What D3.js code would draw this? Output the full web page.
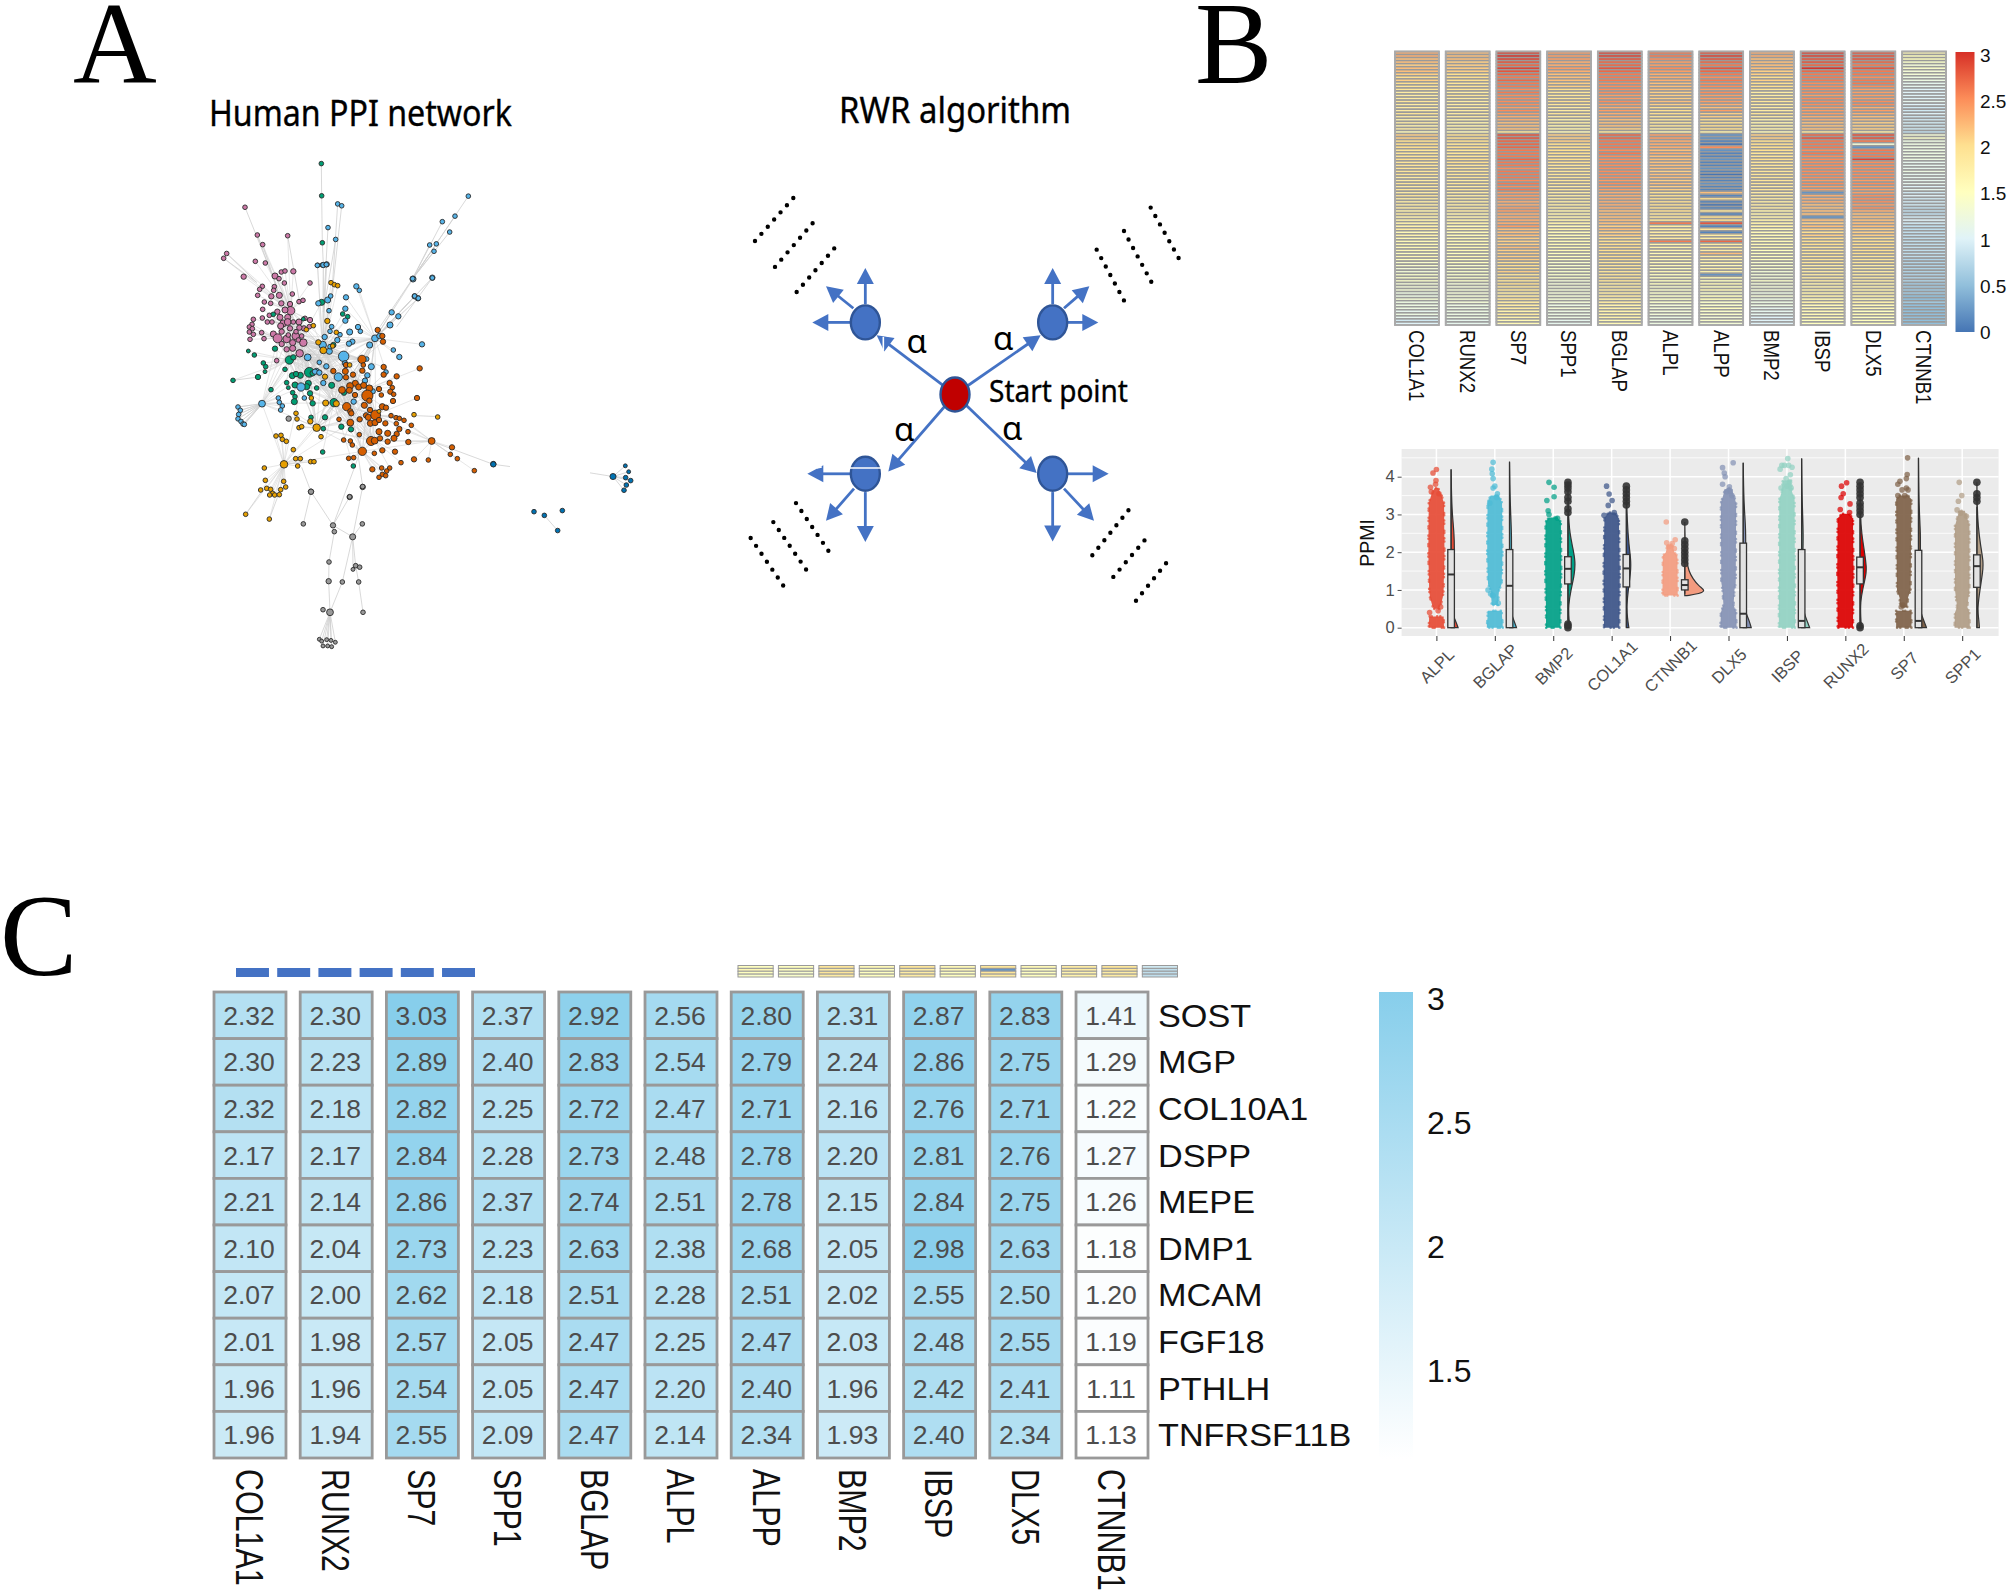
<!DOCTYPE html>
<html><head><meta charset="utf-8">
<script src="https://cdn.jsdelivr.net/npm/d3@7"></script>
<style>html,body{margin:0;padding:0;background:#fff}svg{display:block}text{font-family:"Liberation Sans",Arial,sans-serif}</style>
</head><body><svg id="c" width="2008" height="1592" viewBox="0 0 2008 1592"></svg>
<script>
// ---------- Panel A: network (positions, two reading frames)
const pinkCore=[[46,4,5],[76,9,5],[11,50,6],[105,48,7],[117,56,5],[124,36,5],[135,33,5],[160,34,6],[133,69,5],[210,69,5],[67,79,5],[59,88,5],[53,106,5],[103,80,5],[101,91,5],[94,109,6],[118,106,7],[73,126,5],[92,130,5],[124,130,6],[68,148,5],[150,132,6],[177,125,5],[189,121,5],[157,102,5],[152,152,10],[135,150,7],[112,155,6],[88,166,5],[67,174,5],[40,178,5],[82,186,5],[96,186,5],[120,172,7],[143,172,7],[130,190,8],[143,186,8],[160,186,5],[177,186,7],[195,175,5],[210,180,6],[36,193,5],[28,201,5],[37,206,5],[122,198,7],[150,205,6],[167,228,9],[192,205,6],[208,200,5],[178,203,6],[65,218,5],[72,236,5],[28,216,5],[40,223,5],[30,238,5],[100,222,7],[113,235,11],[140,237,9],[125,252,6],[158,248,7],[190,248,9],[158,265,7],[140,268,6],[179,280,9],[110,302,5],[168,215,5],[175,240,5],[145,225,5],[185,228,5],[125,215,6]];
const greenCore=[[100,163,5],[190,177,4],[245,127,7],[247,15,5],[308,162,5],[323,170,5],[25,273,4],[43,285,5],[105,266,6],[70,309,5],[77,320,5],[75,335,4],[54,351,6],[93,389,5],[135,328,5],[148,300,10],[160,292,6],[208,337,12],[218,340,6],[157,347,7],[181,346,7],[168,342,6],[140,368,5],[145,383,4],[165,375,7],[205,370,7],[200,380,7],[158,398,5],[165,410,5],[163,425,7],[230,384,5],[210,400,6],[218,430,6],[213,472,5],[255,472,6],[250,506,5],[333,508,6],[304,500,6],[248,576,5],[340,618,5],[280,255,6],[275,376,7],[282,428,10],[312,398,6]];
const blueCore=[[233,16,5],[250,15,6],[260,13,6],[235,130,6],[263,120,7],[272,108,5],[318,112,6],[519,57,7],[577,53,6],[349,79,6],[358,91,5],[524,109,6],[534,115,6],[267,152,5],[316,146,6],[316,182,6],[455,157,6],[475,169,6],[450,195,7],[275,200,5],[270,214,5],[329,216,7],[354,201,6],[361,214,5],[300,224,5],[254,231,6],[292,240,6],[337,245,6],[327,251,6],[248,255,9],[268,274,7],[270,260,5],[405,235,8],[389,255,7],[418,228,6],[460,270,5],[478,291,6],[546,253,6],[311,289,13],[380,297,5],[315,310,6],[238,307,5],[203,292,8],[259,319,6],[394,320,7],[230,333,6],[225,335,6],[238,338,6],[295,351,10],[250,369,6],[382,346,6],[375,362,6],[183,381,10],[193,414,5],[115,414,5],[118,427,5],[127,438,5],[122,450,5],[66,431,8],[341,425,6],[398,394,6],[438,336,5]];
const orangeCore=[[413,210,6],[427,228,6],[429,245,6],[366,298,10],[370,315,5],[318,315,6],[316,334,7],[280,333,6],[318,352,6],[339,344,6],[367,332,6],[431,321,6],[431,344,6],[470,349,6],[539,325,6],[449,369,6],[457,383,5],[451,395,6],[461,403,5],[531,414,6],[417,387,6],[424,405,5],[459,423,6],[346,370,7],[356,381,7],[371,376,7],[330,378,8],[388,385,8],[306,390,8],[328,391,7],[345,405,6],[382,407,14],[373,436,7],[388,422,6],[320,440,10],[331,454,6],[334,460,6],[390,450,6],[427,440,7],[438,443,6],[378,466,6],[385,472,7],[407,465,12],[359,478,6],[331,488,8],[391,490,7],[405,488,7],[417,480,6],[436,490,6],[453,467,5],[468,473,5],[478,475,5],[492,481,5],[469,491,5],[514,496,5],[297,478,5],[478,507,6],[358,524,5],[417,515,7],[443,520,7],[504,515,5],[470,522,6],[462,535,7],[311,540,5],[331,543,5],[337,555,5],[393,543,11],[404,542,8],[420,535,6],[443,545,6],[505,546,6],[575,543,8],[367,574,10],[403,580,5],[427,571,6],[465,575,6],[326,595,5],[341,593,5],[522,598,6],[565,600,5],[483,608,5],[397,628,6],[425,624,5],[449,624,5],[440,633,5],[427,643,5],[437,647,5],[417,652,5],[636,562,6],[631,583,5],[652,596,5],[703,632,5]];
const amberCore=[[273,68,5],[283,74,5],[293,77,5],[199,209,5],[220,197,5],[262,183,6],[289,217,5],[235,247,6],[250,271,8],[278,258,5],[329,315,5],[255,350,6],[214,414,5],[257,429,7],[289,431,7],[168,460,5],[171,477,5],[211,484,6],[230,503,9],[177,503,5],[185,500,5],[243,530,5],[108,528,5],[123,526,5],[127,538,5],[139,544,5],[160,569,5],[167,596,5],[181,596,5],[173,618,5],[132,613,9],[212,605,5],[222,605,5],[73,624,5],[76,661,5],[131,664,5],[137,681,5],[122,689,5],[62,690,5],[80,685,5],[92,688,5],[98,700,5],[104,705,5],[89,705,5],[118,704,5],[522,464,5],[593,471,5],[417,454,4]];
const grayCore=[[146,476,6],[213,695,6],[329,711,6],[368,681,6]];
const darkCore=[[760,612,6]];
const greenRim=[[424,199,5],[425,286,5],[427,413,5],[430,473,5],[159,785,5]];
const blueRim=[[473,308,5],[485,313,5],[444,372,5],[467,404,5],[412,474,5],[439,472,5],[865,287,5],[825,341,5],[787,356,5],[809,384,5],[749,419,5],[769,416,5],[762,436,5],[698,510,5],[757,508,5],[704,557,5],[715,563,5],[174,857,5],[181,866,5],[176,877,5],[174,889,5],[183,896,5],[189,903,5],[193,904,5]];
const pinkRim=[[195,317,5],[232,392,5],[248,418,5],[323,394,5],[140,442,5],[131,455,5]];
const darkRim=[[1299,1045,7],[1336,1016,4],[1346,1032,4],[1337,1048,5],[1352,1056,5],[1339,1068,5],[1332,1082,5],[1062,1140,5],[1093,1150,5],[1147,1137,5],[1133,1191,5],[940,1012,6]];
const grayRim=[[393,1086,6],[370,1173,5],[509,1100,5],[548,1072,5],[547,1173,5],[459,1177,6],[463,1194,5],[518,1208,7],[447,1276,5],[527,1286,5],[539,1290,5],[519,1296,4],[446,1328,6],[487,1330,5],[536,1330,5],[429,1405,5],[450,1412,8],[549,1412,5],[418,1485,4],[425,1490,4],[440,1486,4],[453,1488,4],[429,1503,4],[443,1503,4],[455,1505,4],[466,1493,4]];
const amberRim=[[197,1147,5],[268,1160,5]];
const rimEdges=[[393,1086,459,1177],[393,1086,370,1173],[393,1086,365,1020],[459,1177,518,1208],[463,1194,447,1276],[447,1276,446,1328],[446,1328,450,1412],[459,1177,509,1100],[518,1208,548,1072],[518,1208,547,1173],[518,1208,527,1286],[518,1208,519,1296],[518,1208,487,1330],[487,1330,450,1412],[536,1330,549,1412],[527,1286,536,1330],[450,1412,418,1485],[450,1412,425,1490],[450,1412,440,1486],[450,1412,453,1488],[450,1412,429,1503],[450,1412,443,1503],[450,1412,455,1505],[450,1412,466,1493],[548,1072,530,960],[459,1177,540,980],[865,287,698,510],[825,341,698,510],[787,356,698,510],[809,384,698,510],[749,419,698,510],[769,416,698,510],[762,436,698,510],[698,510,600,640],[757,508,650,640],[704,557,620,640],[473,308,455,560],[485,313,455,560],[444,372,430,600],[467,404,430,600],[424,199,425,286],[425,286,427,413],[427,413,430,473],[430,473,430,680],[195,317,290,530],[232,392,300,560],[248,418,300,560],[323,394,360,580],[140,442,230,520],[131,455,230,520],[247,848,174,857],[247,848,181,866],[247,848,176,877],[247,848,174,889],[247,848,183,896],[247,848,189,903],[247,848,193,904],[159,785,234,776],[940,1012,755,950],[940,1012,990,1018],[1230,1035,1299,1045],[1299,1045,1336,1016],[1299,1045,1346,1032],[1299,1045,1337,1048],[1299,1045,1352,1056],[1299,1045,1339,1068],[1299,1045,1332,1082],[1133,1191,1093,1150],[773,883,700,880],[197,1147,245,1085],[268,1160,295,1095]];
// ---------- Panel A: RWR diagram (reading frame 1500 x 1568)
const walkHubs=[[436,703],[998,703],[436,1142],[998,1142]];
const startHub=[705,912];
const walkArrows=[[705,912,470,740],[705,912,962,740],[705,912,505,1135],[705,912,950,1140],[436,650,436,545],[400,662,318,598],[390,703,277,703],[998,650,998,545],[1032,662,1108,598],[1044,703,1135,703],[390,1142,262,1142],[402,1185,318,1278],[436,1195,436,1340],[1044,1142,1166,1142],[1032,1185,1122,1278],[998,1195,998,1338]];
const dotRows=[[105,467,222,340],[165,542,280,413],[230,615,343,488],[1292,370,1378,520],[1212,438,1297,591],[1130,492,1214,643],[228,1227,327,1368],[160,1282,260,1422],[92,1328,191,1468],[1117,1378,1226,1247],[1180,1441,1292,1314],[1248,1510,1356,1380]];
const maskStrokes=[[390,1125,497,1125],[497,1105,497,1135],[490,745,490,785],[500,742,515,742],[290,1125,305,1122]];
const alphaMarks=[[590,760],[850,750],[553,1015],[877,1012]];
// ---------- Panel B: row heatmap
const genesB=["COL1A1","RUNX2","SP7","SPP1","BGLAP","ALPL","ALPP","BMP2","IBSP","DLX5","CTNNB1"];
const col1a1=[2.3,2.3,2.2,2.2,2.1,2.2,2.2,2.1,2.0,2.1,2.0,1.9,1.9,1.8,1.8,1.8,1.9,1.8,1.8,1.8,1.9,1.8,1.7,1.8,1.7,1.8,1.6,2.1,2.1,2.0,2.0,2.0,1.9,1.9,1.9,2.0,1.9,1.9,1.9,1.9,1.9,1.8,1.8,1.9,1.8,1.9,1.8,1.9,1.8,1.8,1.8,1.8,1.7,1.8,1.7,1.7,1.7,1.7,1.8,1.6,1.7,1.6,1.6,1.6,1.6,1.6,1.5,1.6,1.5,1.4,1.4,1.3,1.3,1.4,1.4,1.4,1.3,1.3,1.3,1.2,1.2,1.3,1.2,1.2,1.2,1.1,1.2,1.1,0.9,1.0];
const runx2=[2.2,2.2,2.2,2.1,2.1,2.1,2.1,2.0,2.0,2.0,1.9,1.9,1.9,1.8,1.9,1.8,1.8,1.8,1.8,1.8,1.8,1.8,1.7,1.7,1.7,1.7,1.6,2.0,2.0,2.0,1.9,2.0,1.9,1.9,1.9,2.0,2.0,1.9,1.9,1.9,1.9,1.9,1.8,1.9,1.8,1.9,1.8,1.8,1.8,1.8,1.8,1.8,1.8,1.7,1.7,1.7,1.7,1.6,1.7,1.6,1.6,1.6,1.6,1.6,1.6,1.6,1.5,1.6,1.5,1.5,1.4,1.4,1.4,1.4,1.4,1.4,1.3,1.3,1.3,1.3,1.3,1.3,1.3,1.2,1.2,1.2,1.2,1.2,1.1,1.1];
const sp7=[2.9,3.0,2.9,2.8,2.7,2.9,2.8,2.7,2.6,2.7,2.6,2.6,2.5,2.6,2.5,2.5,2.5,2.5,2.4,2.5,2.4,2.3,2.3,2.2,2.2,2.2,1.9,2.8,2.8,2.7,2.7,2.7,2.6,2.6,2.6,2.7,2.6,2.6,2.5,2.6,2.6,2.6,2.5,2.6,2.5,2.6,2.4,2.4,2.4,2.3,2.3,2.4,2.4,2.3,2.3,2.3,2.3,2.4,2.2,2.2,2.2,2.1,2.1,2.1,2.2,2.1,2.1,2.1,2.1,2.0,2.0,2.0,2.1,1.9,2.0,1.9,2.0,1.9,1.9,1.8,1.8,1.9,1.8,1.8,1.8,1.7,1.8,1.7,1.6,1.6];
const spp1=[2.4,2.4,2.4,2.3,2.3,2.4,2.3,2.2,2.2,2.2,2.1,2.1,2.0,1.9,1.9,1.9,2.0,1.9,1.8,1.8,1.9,1.8,1.7,1.8,1.7,1.7,1.6,2.1,2.1,2.1,2.0,2.0,2.0,2.0,1.9,2.0,2.0,1.9,1.9,1.9,1.9,1.9,1.9,1.9,1.8,1.9,1.8,1.8,1.8,1.8,1.8,1.8,1.7,1.7,1.7,1.7,1.7,1.6,1.7,1.6,1.6,1.6,1.6,1.6,1.6,1.6,1.5,1.5,1.5,1.4,1.4,1.4,1.4,1.4,1.4,1.3,1.3,1.3,1.3,1.3,1.3,1.3,1.3,1.2,1.3,1.2,1.2,1.2,1.1,1.1];
const bglap=[2.9,2.9,2.8,2.7,2.7,2.8,2.7,2.6,2.6,2.6,2.5,2.5,2.5,2.5,2.4,2.4,2.5,2.4,2.3,2.4,2.3,2.3,2.2,2.2,2.2,2.1,1.9,2.7,2.7,2.6,2.6,2.6,2.5,2.6,2.5,2.5,2.5,2.5,2.5,2.5,2.5,2.5,2.4,2.5,2.4,2.4,2.3,2.3,2.3,2.3,2.3,2.3,2.2,2.2,2.2,2.2,2.2,2.1,2.2,2.1,2.1,2.0,2.0,2.0,2.0,2.0,2.0,2.0,2.0,1.9,1.9,1.9,1.9,1.9,1.9,1.9,1.8,1.8,1.8,1.8,1.8,1.7,1.8,1.7,1.7,1.7,1.7,1.7,1.6,1.6];
const alpl=[2.6,2.6,2.5,2.4,2.4,2.5,2.4,2.3,2.3,2.3,2.2,2.2,2.2,2.1,2.1,2.1,2.2,2.1,2.0,2.0,2.0,1.9,1.9,1.9,1.9,1.8,1.7,2.4,2.4,2.3,2.3,2.3,2.2,2.3,2.2,2.2,2.2,2.2,2.2,2.1,2.2,2.2,2.1,2.2,2.1,2.1,2.0,2.0,2.0,2.0,2.0,2.0,2.0,1.9,1.9,1.9,2.6,1.8,1.8,1.8,1.8,1.8,2.6,1.7,1.7,1.7,1.6,1.7,1.6,1.6,1.6,1.5,1.6,1.5,1.5,1.5,1.5,1.4,1.4,1.4,1.4,1.4,1.4,1.3,1.3,1.3,1.3,1.2,1.2,1.2];
const alpp=[2.8,2.9,2.8,2.7,2.6,2.8,2.7,2.6,2.5,2.6,2.5,2.5,2.4,2.5,2.4,2.4,2.4,2.3,2.2,2.4,2.1,2.1,2.0,2.0,2.0,2.0,1.7,0.2,0.2,0.1,0.0,2.5,0.2,0.1,0.1,0.2,0.1,0.1,0.2,0.1,0.0,0.1,0.1,0.2,0.1,0.1,2.2,0.1,2.0,0.1,0.0,0.1,1.9,0.1,2.0,2.0,2.8,0.1,1.9,0.1,1.8,1.8,2.7,1.8,1.8,1.8,2.2,1.8,1.7,1.7,1.6,1.7,1.7,0.2,1.6,1.5,1.6,1.5,1.6,1.4,1.5,1.5,1.4,1.4,1.5,1.4,1.4,1.3,1.4,1.3];
const bmp2=[2.3,2.3,2.2,2.2,2.2,2.2,2.1,2.1,2.0,2.1,2.0,2.0,1.9,1.8,1.8,1.9,1.9,1.8,1.8,1.8,1.9,1.8,1.7,1.7,1.7,1.7,1.6,2.1,2.1,2.0,2.0,2.0,2.0,1.9,1.9,2.0,1.9,1.9,1.9,1.9,1.9,1.9,1.9,1.9,1.8,1.9,1.8,1.8,1.8,1.8,1.8,1.8,1.7,1.7,1.7,1.7,1.7,1.7,1.6,1.6,1.6,1.6,1.6,1.6,1.6,1.5,1.5,1.5,1.5,1.4,1.4,1.4,1.3,1.3,1.3,1.4,1.3,1.3,1.3,1.2,1.3,1.2,1.2,1.2,1.1,1.1,1.1,1.0,1.0,1.0];
const ibsp=[2.9,2.9,2.8,2.8,2.7,3.0,2.7,2.6,2.6,2.6,2.5,2.5,2.5,2.5,2.4,2.5,2.5,2.5,2.4,2.4,2.4,2.3,2.3,2.2,2.2,2.2,1.9,2.7,2.8,2.6,2.6,2.6,2.5,2.6,2.5,2.5,2.5,2.5,2.5,2.5,2.5,2.5,2.4,2.5,2.4,2.4,0.2,2.3,2.3,2.3,2.2,2.2,2.2,2.2,0.2,2.2,2.1,2.2,2.1,2.0,2.1,2.0,2.0,2.0,1.9,1.9,1.9,1.9,1.9,1.9,1.8,1.8,1.8,1.8,1.8,1.8,1.7,1.7,1.7,1.7,1.7,1.6,1.7,1.6,1.6,1.6,1.6,1.6,1.5,1.5];
const dlx5=[2.8,2.8,2.8,2.7,2.6,2.8,2.6,2.6,2.5,2.6,2.6,2.5,2.4,2.4,2.4,2.4,2.5,2.5,2.3,2.4,2.3,2.2,2.2,2.1,2.1,2.1,1.8,2.8,2.8,2.6,1.3,0.2,2.6,2.6,2.6,2.9,2.5,2.5,2.5,2.5,2.5,2.5,2.4,2.5,2.4,2.4,2.4,2.5,2.5,2.5,2.4,2.5,2.3,2.2,2.2,2.2,2.2,2.2,2.1,2.1,2.1,2.0,2.0,2.0,2.0,2.0,2.0,1.9,1.9,1.9,1.8,1.8,1.8,1.8,1.8,1.8,1.7,1.7,1.7,1.7,1.7,1.6,1.7,1.6,1.6,1.5,1.6,1.5,1.5,1.5];
const ctnnb1=[1.6,1.5,1.5,1.4,1.3,1.4,1.3,1.3,1.2,1.2,1.1,1.1,1.0,1.0,1.0,1.0,1.1,1.0,0.9,0.9,1.0,0.9,0.9,0.9,0.9,0.9,0.8,1.3,1.4,1.2,1.2,1.2,1.2,1.2,1.2,1.2,1.1,1.1,1.1,1.2,1.1,1.1,1.1,1.1,1.0,1.1,0.9,1.0,0.9,0.9,0.9,0.8,0.8,0.8,0.9,1.0,0.9,0.8,0.8,0.8,0.8,0.8,0.8,0.8,0.8,0.8,0.8,0.8,0.7,0.7,0.7,0.7,0.7,0.7,0.7,0.7,0.6,0.6,0.6,0.6,0.5,0.5,0.6,0.5,0.5,0.5,0.5,0.5,0.5,0.5];
const seriesB=[col1a1,runx2,sp7,spp1,bglap,alpl,alpp,bmp2,ibsp,dlx5,ctnnb1];
const heatStops=["#4575B4","#91BFDB","#E0F3F8","#FFFFBF","#FEE090","#FC8D59","#D73027"];
const heatStopValues=[0,0.5,1,1.5,2,2.5,3];
const heatTicks=[0,0.5,1,1.5,2,2.5,3];
// ---------- Panel B: raincloud
const genesR=["ALPL","BGLAP","BMP2","COL1A1","CTNNB1","DLX5","IBSP","RUNX2","SP7","SPP1"];
const colorsR=["#E64B35","#4DBBD5","#00A087","#3C5488","#F39B7F","#8491B4","#91D1C2","#DC0000","#7E6148","#B09C85"];
const boxQ1=[0,0,1.16,1.08,1.0,0,0,1.16,0,1.07];
const boxMed=[1.41,1.11,1.56,1.57,1.13,0.37,0.18,1.6,0.18,1.63];
const boxQ3=[2.07,2.07,1.88,1.94,1.27,2.24,2.07,1.87,2.05,1.93];
const whiskLo=[0,0,0.2,0,0.9,0,0,0.1,0,0];
const whiskHi=[4.19,4.38,2.95,3.2,1.65,4.37,4.48,2.95,4.5,3.2];
const bandsR=[
 [[[0,.9],[.3,.85]],[[.5,.3],[.6,.5],[.8,.75],[1,.85],[2,.95],[3.3,.9],[3.55,.55],[3.7,.2]]],
 [[[0,.95],[.45,.8]],[[.6,.35],[1,.5],[1.15,.8],[2,.9],[3.3,.85],[3.5,.5]]],
 [[[0,.85],[.5,.85],[1.5,.95],[2.8,.9],[2.92,.5]]],
 [[[0,.9],[1.5,.95],[2.9,.85],[3.05,.4]]],
 [[[.85,.9],[1.9,.85],[2.0,.5],[2.2,.3]]],
 [[[0,.95],[.4,.9],[.6,.6],[1,.7],[1.2,.85],[3.3,.9],[3.6,.5],[3.7,.2]]],
 [[[0,.95],[3.4,.9],[3.6,.6],[3.9,.5]]],
 [[[0,.9],[1.5,.95],[2.9,.9],[3.02,.4]]],
 [[[0,.9],[.45,.9]],[[.55,.4],[.8,.5],[1,.8],[3.4,.9],[3.5,.5]]],
 [[[0,.9],[.4,.85],[.55,.6],[1,.85],[2.7,.85],[2.9,.6],[3.1,.3]]]];
const scatterR=[
 [[0,4.19],[-.4,4.1],[-.05,3.9],[-.1,3.8],[-.7,3.72],[-.6,3.6],[.3,3.55],[-.8,.4],[.5,.55],[.2,.45]],
 [[-.2,4.38],[-.35,4.2],[-.3,4.08],[-.2,3.95],[0,3.75],[-.2,3.7],[.3,3.55],[.2,3.45],[-.6,3.3],[-.8,1.0],[-.5,.9],[-.2,.85],[.4,.65]],
 [[-.5,3.85],[.1,3.72],[.1,3.47],[-.75,3.37],[-.6,3.1],[-.5,3],[.5,2.9]],
 [[-.6,3.75],[-.3,3.54],[.05,3.37],[-.4,3.24],[-.9,2.98],[.3,3.05]],
 [[-.45,2.8],[.6,2.33],[-.4,2.25],[.25,2.23],[-.1,2.15],[.5,2.1]],
 [[.55,4.37],[-.7,4.24],[-.5,4.1],[-.4,4],[-.7,3.8],[.1,3.73],[-.2,3.6],[.2,3.62],[.4,3.5]],
 [[.1,4.48],[-.6,4.3],[-.3,4.3],[.2,4.3],[.6,4.25],[-.8,4.2],[.4,4.05],[-.1,3.95],[.3,3.85],[-.7,3.7],[0,3.75],[.5,3.7]],
 [[.15,3.84],[-.45,3.75],[-.25,3.55],[-.5,3.45],[.55,3.28],[-.6,3.13],[.5,3.05]],
 [[.45,4.5],[.4,4.06],[.3,3.95],[-.45,3.88],[-.7,3.8],[.3,3.7],[-.2,3.65],[.5,3.65],[-.7,3.5],[.1,3.5],[-.3,.55],[-.1,.6]],
 [[-.35,3.85],[-.05,3.5],[-.45,3.35],[-.6,3.12],[.5,2.95],[-.2,3.03]]];
const outliersR=[[],[],[3.05,3.15,3.35,3.45,3.6,3.7,3.78,3.85,0,0.05,0.1],[3.25,3.35,3.45,3.55,3.65,3.75],[1.7,1.8,1.9,2.0,2.1,2.2,2.3,2.8],[],[],[3.0,3.1,3.2,3.3,3.45,3.55,3.65,3.75,3.85,0,0.05],[],[3.35,3.45,3.55,3.85]];
const violinR=[
 [[0,7],[.15,5],[.35,1.5],[.6,.6],[1,1.2],[1.5,2.5],[2,3.5],[2.5,3],[3,1.2],[3.5,.4],[4.2,0]],
 [[0,7],[.15,5],[.35,2],[.6,.5],[1,1],[1.5,1.5],[2,2],[2.5,2],[3,1.2],[3.5,.5],[4.4,0]],
 [[0,2],[.2,1],[.6,.4],[1,3],[1.4,6.5],[1.75,7.5],[2.1,5],[2.5,1.8],[3,.4],[3.85,0]],
 [[0,2.5],[.25,1],[.6,.4],[1,1.8],[1.5,4.5],[1.8,4.5],[2.2,2.5],[2.8,.8],[3.75,0]],
 [[.85,2],[.9,15],[.98,21],[1.1,14],[1.3,8],[1.5,4],[1.8,1.5],[2.2,.4],[2.8,0]],
 [[0,8],[.15,6.5],[.4,2.5],[.7,.8],[1,1],[1.5,1.5],[2,2.5],[2.6,2.5],[3,1.5],[3.5,.5],[4.37,0]],
 [[0,8],[.15,6],[.4,2],[.8,.4],[1.5,.6],[2,1.4],[2.5,1.6],[3,1],[3.5,.4],[4.48,0]],
 [[0,1.5],[.25,.6],[.7,.4],[1,2.5],[1.4,6],[1.6,6.5],[2,4.5],[2.5,1.5],[3,.3],[3.85,0]],
 [[0,8],[.15,6],[.4,2],[.8,.5],[1.5,1.2],[2,2],[2.5,2],[3,1],[3.5,.4],[4.5,0]],
 [[0,2.5],[.2,2],[.5,.5],[1,3],[1.5,6],[1.75,6.5],[2.2,3.5],[2.7,1.2],[3.2,.3],[3.85,0]]];
const ppmiTicks=[0,1,2,3,4];
const ppmiMinor=[0.5,1.5,2.5,3.5,4.5];
// ---------- Panel C
const genesC=genesB;
const rowsC=["SOST","MGP","COL10A1","DSPP","MEPE","DMP1","MCAM","FGF18","PTHLH","TNFRSF11B"];
const sost=[2.32,2.30,3.03,2.37,2.92,2.56,2.80,2.31,2.87,2.83,1.41];
const mgp=[2.30,2.23,2.89,2.40,2.83,2.54,2.79,2.24,2.86,2.75,1.29];
const col10a1=[2.32,2.18,2.82,2.25,2.72,2.47,2.71,2.16,2.76,2.71,1.22];
const dspp=[2.17,2.17,2.84,2.28,2.73,2.48,2.78,2.20,2.81,2.76,1.27];
const mepe=[2.21,2.14,2.86,2.37,2.74,2.51,2.78,2.15,2.84,2.75,1.26];
const dmp1=[2.10,2.04,2.73,2.23,2.63,2.38,2.68,2.05,2.98,2.63,1.18];
const mcam=[2.07,2.00,2.62,2.18,2.51,2.28,2.51,2.02,2.55,2.50,1.20];
const fgf18=[2.01,1.98,2.57,2.05,2.47,2.25,2.47,2.03,2.48,2.55,1.19];
const pthlh=[1.96,1.96,2.54,2.05,2.47,2.20,2.40,1.96,2.42,2.41,1.11];
const tnfrsf11b=[1.96,1.94,2.55,2.09,2.47,2.14,2.34,1.93,2.40,2.34,1.13];
const valuesC=[sost,mgp,col10a1,dspp,mepe,dmp1,mcam,fgf18,pthlh,tnfrsf11b];
const legendTicksC=[1.5,2,2.5,3];
const thumbStrips=[[1.5,1.6,1.5,1.4],[1.5,1.5,1.4,1.4],[1.9,1.8,1.9,1.8],[1.6,1.5,1.5,1.5],[1.9,1.8,1.8,1.8],[1.6,1.6,1.5,1.5],[1.9,0.2,1.9,1.8],[1.6,1.5,1.5,1.5],[1.8,1.8,1.7,1.7],[1.9,1.9,1.8,1.8],[0.9,0.8,0.8,0.8]];
const solidStrips=[0,1,2,3,4,5];
// ==================== drawing
const svg=d3.select("#c");
const defs=svg.append("defs");
const letter=(t,x,y)=>svg.append("text").attr("x",x).attr("y",y).text(t).style("font-family","'Liberation Serif',serif").style("font-size","116px").attr("fill","#000");
letter("A",73,83);letter("B",1195,83);letter("C",0,975);
const title=(t,x,y,len,fs)=>svg.append("text").attr("x",x).attr("y",y).text(t).attr("textLength",len).attr("lengthAdjust","spacingAndGlyphs").attr("stroke","#000").attr("stroke-width",.35).style("font-family","'Noto Sans',sans-serif").style("font-size",fs+"px").attr("fill","#000");
title("Human PPI network",209,126,303,36);
title("RWR algorithm",839,123,232,36);
title("Start point",989,402,139,30);

// --- network
const xo=d3.scaleLinear([0,1440],[180,660]),yo=d3.scaleLinear([0,1568],[90,670]);
const xi=d3.scaleLinear([0,780],[240,500]),yi=d3.scaleLinear([0,720],[260,500]);
const rn=d3.scaleLinear([0,14],[0.5,5.6]);
const netCols={pink:"#CC79A7",green:"#009E73",blue:"#56B4E9",orange:"#D55E00",amber:"#E69F00",gray:"#999999",dark:"#0072B2"};
const core={pink:pinkCore,green:greenCore,blue:blueCore,orange:orangeCore,amber:amberCore,gray:grayCore,dark:darkCore};
const rim={pink:pinkRim,green:greenRim,blue:blueRim,gray:grayRim,dark:darkRim,amber:amberRim,orange:[]};
const nodes=[];
for(const k in core){core[k].forEach(d=>nodes.push({k,x:xi(d[0]),y:yi(d[1]),r:rn(d[2]),raw:d[2]}));
 rim[k].forEach(d=>nodes.push({k,x:xo(d[0]),y:yo(d[1]),r:rn(d[2]),raw:d[2]}));}
const hubs=nodes.filter(n=>n.raw>=8);
const links=[];
nodes.forEach(n=>{ if(n.raw>=8) return; const hs=hubs.filter(h=>h.k===n.k); if(!hs.length||n.k==="gray"||n.k==="dark") return;
 const h=d3.least(hs,a=>(a.x-n.x)**2+(a.y-n.y)**2); if(Math.hypot(h.x-n.x,h.y-n.y)<95) links.push([n.x,n.y,h.x,h.y]);});
hubs.forEach((a,i)=>hubs.slice(i+1).forEach(b=>{if(Math.hypot(a.x-b.x,a.y-b.y)<80)links.push([a.x,a.y,b.x,b.y]);}));
const gNet=svg.append("g");
gNet.selectAll("line.a").data(links).join("line").attr("x1",d=>d[0]).attr("y1",d=>d[1]).attr("x2",d=>d[2]).attr("y2",d=>d[3]).attr("stroke","#cfcfcf").attr("stroke-width",.7).attr("opacity",.7);
gNet.selectAll("line.b").data(rimEdges).join("line").attr("x1",d=>xo(d[0])).attr("y1",d=>yo(d[1])).attr("x2",d=>xo(d[2])).attr("y2",d=>yo(d[3])).attr("stroke","#cfcfcf").attr("stroke-width",.8);
gNet.selectAll("circle").data(nodes).join("circle").attr("cx",d=>d.x).attr("cy",d=>d.y).attr("r",d=>d.r).attr("fill",d=>netCols[d.k]).attr("stroke","#2a2a2a").attr("stroke-width",.9);

// --- RWR
const xw=d3.scaleLinear([0,1500],[720,1220]),yw=d3.scaleLinear([0,1568],[80,620.7]);
const gW=svg.append("g"),walkBlue="#4472C4";
gW.selectAll("line.dot").data(dotRows).join("line").attr("x1",d=>xw(d[0])).attr("y1",d=>yw(d[1])).attr("x2",d=>xw(d[2])).attr("y2",d=>yw(d[3])).attr("stroke","#000").attr("stroke-width",4.4).attr("stroke-linecap","round").attr("stroke-dasharray","0 9.6");
walkArrows.forEach(a=>{const x1=xw(a[0]),y1=yw(a[1]),x2=xw(a[2]),y2=yw(a[3]),ang=Math.atan2(y2-y1,x2-x1)*180/Math.PI,L=Math.hypot(x2-x1,y2-y1);
 const g=gW.append("g").attr("transform",`translate(${x1},${y1}) rotate(${ang})`);
 g.append("line").attr("x2",L-12).attr("stroke",walkBlue).attr("stroke-width",2.8);
 g.append("path").attr("d",`M${L},0L${L-16},-8.5L${L-16},8.5Z`).attr("fill",walkBlue);});
const hubEll=(p,fill)=>gW.append("ellipse").attr("cx",xw(p[0])).attr("cy",yw(p[1])).attr("rx",14.5).attr("ry",17).attr("fill",fill).attr("stroke","#2F5597").attr("stroke-width",2.4);
walkHubs.forEach(p=>hubEll(p,walkBlue));hubEll(startHub,"#C00000");
gW.selectAll("line.mask").data(maskStrokes).join("line").attr("x1",d=>xw(d[0])).attr("y1",d=>yw(d[1])).attr("x2",d=>xw(d[2])).attr("y2",d=>yw(d[3])).attr("stroke","#fff").attr("stroke-width",1.6);
gW.selectAll("text.al").data(alphaMarks).join("text").attr("x",d=>xw(d[0])).attr("y",d=>yw(d[1])).attr("dy",".33em").attr("text-anchor","middle").text("α").style("font-family","'Noto Sans',sans-serif").style("font-size","33px");

// --- heat B
const heatColor=d3.scaleLinear(heatStopValues,heatStops);
const xB=d3.scaleBand(genesB,[1395,1946]).paddingInner(.135);
const nRows=col1a1.length;
const yB=d3.scaleBand(d3.range(nRows),[51.5,325]);
const gB=svg.append("g");
seriesB.forEach((vals,c)=>{const g=gB.append("g");
 g.selectAll("rect").data(vals).join("rect").attr("x",xB(genesB[c])).attr("width",xB.bandwidth()).attr("y",(d,i)=>yB(i)).attr("height",yB.bandwidth()).attr("fill",d=>heatColor(d)).attr("stroke","#9a9a9a").attr("stroke-width",1.5);
 g.append("rect").attr("x",xB(genesB[c])).attr("y",51.5).attr("width",xB.bandwidth()).attr("height",273.5).attr("fill","none").attr("stroke","#aaa").attr("stroke-width",1.8);});
const vText=(g,t,x,y,fs,k,fill)=>g.append("text").attr("transform",`translate(${x},${y}) rotate(90) scale(1,${k})`).attr("dy",".36em").text(t).style("font-size",fs+"px").attr("fill",fill);
genesB.forEach(t=>vText(gB,t,xB(t)+xB.bandwidth()/2,330,18.6,1.15,"#111"));
const gradB=defs.append("linearGradient").attr("id","gb").attr("x1",0).attr("x2",0).attr("y1",1).attr("y2",0);
heatStopValues.forEach(v=>gradB.append("stop").attr("offset",v/3).attr("stop-color",heatColor(v)));
const lyB=d3.scaleLinear([0,3],[332,55]);
gB.append("rect").attr("x",1955.5).attr("width",19).attr("y",52).attr("height",280).attr("fill","url(#gb)");
gB.selectAll("text.t").data(heatTicks).join("text").attr("x",1980).attr("y",d=>lyB(d)).attr("dy",".36em").text(d=>d).style("font-size","19px").attr("fill","#111");

// --- raincloud
const xR=d3.scalePoint(genesR,[1436.4,1962.2]);
const yR=d3.scaleLinear([0,4],[627.7,476.7]);
const jit=d3.scaleLinear([-1,1],[-8.5,8.5]);
const dens=d3.scaleLinear([0,21],[0,21]);
const gR=svg.append("g");
gR.append("rect").attr("x",1401.6).attr("y",449).attr("width",597).attr("height",187).attr("fill","#EBEBEB");
gR.selectAll("line.mn").data(ppmiMinor).join("line").attr("x1",1401.6).attr("x2",1998.6).attr("y1",d=>yR(d)).attr("y2",d=>yR(d)).attr("stroke","#fff").attr("stroke-width",.8);
gR.selectAll("line.mj").data(ppmiTicks).join("line").attr("x1",1401.6).attr("x2",1998.6).attr("y1",d=>yR(d)).attr("y2",d=>yR(d)).attr("stroke","#fff").attr("stroke-width",1.5);
gR.selectAll("line.v").data(genesR).join("line").attr("y1",449).attr("y2",636).attr("x1",d=>xR(d)).attr("x2",d=>xR(d)).attr("stroke","#fff").attr("stroke-width",1.5);
genesR.forEach((name,i)=>{const cx=xR(name),col=colorsR[i];
 const band=d3.area().y(d=>yR(d[0])).x0(d=>cx-jit(d[1])).x1(d=>cx+jit(d[1]));
 const g=gR.append("g");
 bandsR[i].forEach(seg=>{g.append("path").attr("d",band(seg)).attr("fill",col).attr("fill-opacity",.92).attr("stroke",col).attr("stroke-opacity",.75).attr("stroke-width",2.6).attr("stroke-linecap","round").attr("stroke-dasharray","0.1 5.3 0.1 1.9 0.1 7.1 0.1 3.1");});
 g.selectAll("circle").data(scatterR[i]).join("circle").attr("cx",d=>cx+jit(d[0])).attr("cy",d=>yR(d[1])).attr("r",2.8).attr("fill",col).attr("opacity",.72);
 const bx=cx+14.7;
 const viol=d3.area().curve(d3.curveBasis).y(d=>yR(d[0])).x0(bx).x1(d=>bx+dens(d[1]));
 gR.append("path").attr("d",viol(violinR[i])+"Z").attr("fill",col).attr("stroke","#333").attr("stroke-width",1.2);
 gR.append("line").attr("x1",bx).attr("x2",bx).attr("y1",yR(whiskLo[i])).attr("y2",yR(whiskHi[i])).attr("stroke","#333").attr("stroke-width",1.2);
 gR.append("rect").attr("x",bx-3.3).attr("width",6.6).attr("y",yR(boxQ3[i])).attr("height",yR(boxQ1[i])-yR(boxQ3[i])).attr("fill","#e2e2e2").attr("stroke","#333").attr("stroke-width",1.3);
 gR.append("line").attr("x1",bx-3.3).attr("x2",bx+3.3).attr("y1",yR(boxMed[i])).attr("y2",yR(boxMed[i])).attr("stroke","#333").attr("stroke-width",2);
 gR.selectAll(null).data(outliersR[i]).join("circle").attr("cx",bx).attr("cy",d=>yR(d)).attr("r",3.8).attr("fill","#333").attr("opacity",.9);
});
const axL=gR.append("g").attr("transform","translate(1401.6,0)").call(d3.axisLeft(yR).tickValues(ppmiTicks).tickFormat(d3.format("d")).tickSize(4));
axL.select(".domain").remove();axL.selectAll("line").attr("stroke","#4d4d4d");axL.selectAll("text").style("font-size","16.5px").attr("fill","#4d4d4d");
const axB=gR.append("g").attr("transform","translate(0,636)").call(d3.axisBottom(xR).tickSize(5));
axB.select(".domain").remove();axB.selectAll("line").attr("stroke","#333");
axB.selectAll("text").attr("x",0).attr("y",0).attr("dy",".35em").attr("text-anchor","middle").attr("transform","translate(0,30) rotate(-45)").style("font-size","16.5px").attr("fill","#4d4d4d");
gR.append("text").attr("transform","translate(1367,543) rotate(-90)").attr("text-anchor","middle").attr("dy",".36em").text("PPMI").style("font-size","19.5px").attr("fill","#111");

// --- heat C
const skyScale=d3.scaleLinear([1.13,3.03],["#ffffff","#87CEEB"]).clamp(true);
const xC=d3.scaleBand(genesC,[214,1148]).paddingInner(.165);
const yC=d3.scaleBand(rowsC,[992,1458]);
const gC=svg.append("g");
valuesC.forEach((vals,r)=>{const g=gC.append("g");
 g.selectAll("rect").data(vals).join("rect").attr("x",(d,i)=>xC(genesC[i])).attr("y",yC(rowsC[r])).attr("width",xC.bandwidth()).attr("height",yC.bandwidth()).attr("fill",d=>skyScale(d)).attr("stroke","#999").attr("stroke-width",2.8);
 g.selectAll("text").data(vals).join("text").attr("x",(d,i)=>xC(genesC[i])+xC.bandwidth()/2-1).attr("y",yC(rowsC[r])+yC.bandwidth()/2).attr("dy",".36em").attr("text-anchor","middle").text(d=>d.toFixed(2)).style("font-size","26.5px").attr("fill","#4d4d4d");});
rowsC.forEach(t=>gC.append("text").attr("transform",`translate(1158,${yC(t)+yC.bandwidth()/2}) scale(1.07,1)`).attr("dy",".36em").text(t).style("font-size","32px").attr("fill","#111"));
genesC.forEach(t=>vText(gC,t,xC(t)+xC.bandwidth()/2,1469,30.4,1.3,"#111"));
const gradC=defs.append("linearGradient").attr("id","gc").attr("x1",0).attr("x2",0).attr("y1",1).attr("y2",0);
[0,1].forEach(o=>gradC.append("stop").attr("offset",o).attr("stop-color",skyScale(1.13+o*1.9)));
const lyC=d3.scaleLinear([1.5,3],[1370.5,998]);
gC.append("rect").attr("x",1379).attr("width",34).attr("y",992).attr("height",467).attr("fill","url(#gc)");
gC.selectAll("text.l").data(legendTicksC).join("text").attr("x",1427).attr("y",d=>lyC(d)).attr("dy",".36em").text(d=>d).style("font-size","32px").attr("fill","#111");
// strips above panel C
const xS=d3.scaleBand(solidStrips,[236,475]).paddingInner(.2);
gC.selectAll("rect.s").data(solidStrips).join("rect").attr("x",d=>xS(d)).attr("width",xS.bandwidth()).attr("y",968).attr("height",9).attr("fill","#4472C4");
const xT=d3.scaleBand(d3.range(thumbStrips.length),[738,1177.5]).paddingInner(.13);
const yT=d3.scaleBand(d3.range(4),[965.5,977]);
thumbStrips.forEach((vals,c)=>gC.append("g").selectAll("rect").data(vals).join("rect").attr("x",xT(c)).attr("width",xT.bandwidth()).attr("y",(d,i)=>yT(i)).attr("height",yT.bandwidth()).attr("fill",d=>heatColor(d)).attr("stroke","#9a9a9a").attr("stroke-width",1));
</script></body></html>
